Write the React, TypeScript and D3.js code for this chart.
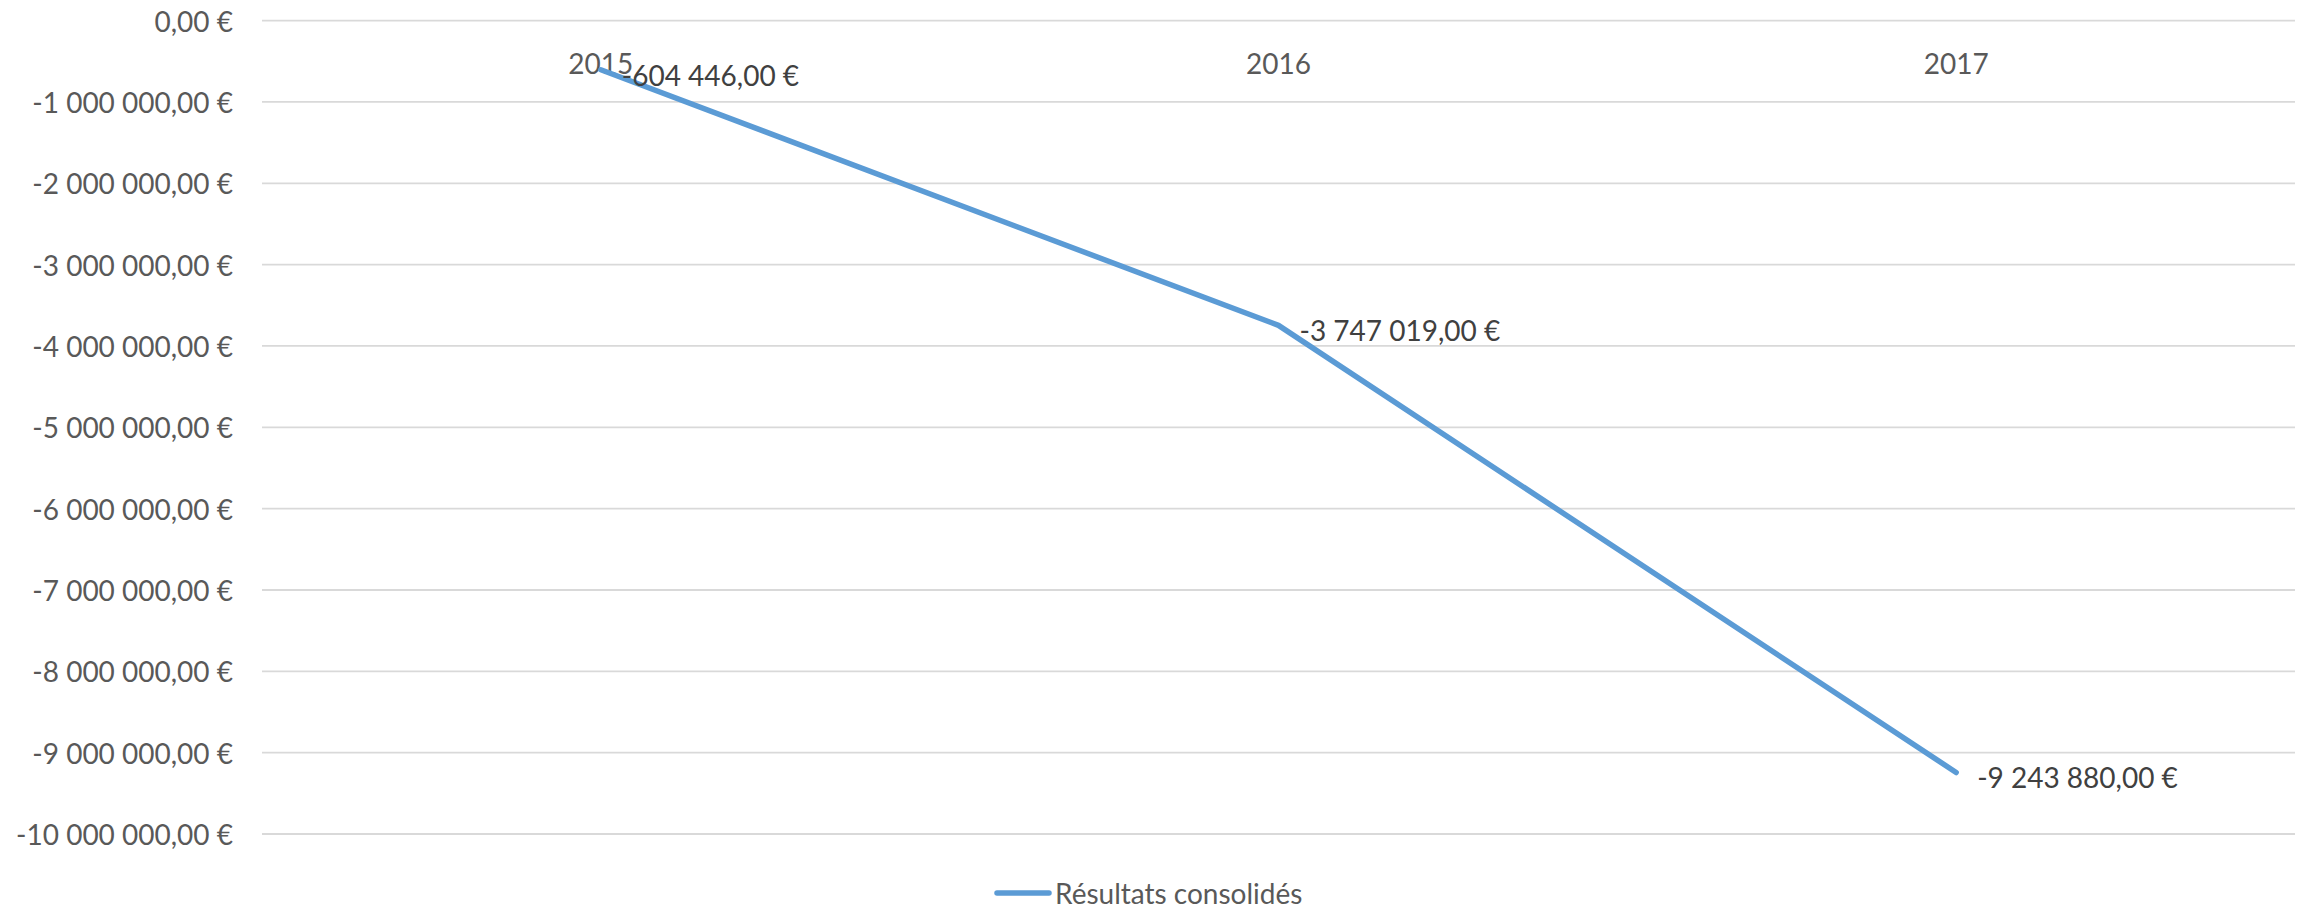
import React from 'react';
import * as d3 from 'd3';

// données
const years = ['2015', '2016', '2017'];
const resultats = [-604446, -3747019, -9243880];
const yTicks = [0, -1000000, -2000000, -3000000, -4000000, -5000000, -6000000, -7000000, -8000000, -9000000, -10000000];
const seriesName = 'Résultats consolidés';

const W = 2311;
const H = 906;
const FONT = 'Lato, "Open Sans", sans-serif';

const fr = d3.formatLocale({
  decimal: ',',
  thousands: ' ',
  grouping: [3],
  currency: ['', ' €'],
  minus: '-',
});
const euro = fr.format('$,.2f');

export default () => {
  const x = d3.scaleBand<string>().domain(years).range([262, 2295]);
  const y = d3.scaleLinear().domain([-10000000, 0]).range([834, 20.6]);

  const pts = years.map((yr, i) => [x(yr)! + x.bandwidth() / 2, y(resultats[i])] as [number, number]);
  const line = d3.line();

  return (
    <svg width={W} height={H} style={{ position: 'absolute', left: 0, top: 0, background: '#fff' }}>
      {/* grille + axe des valeurs */}
      {yTicks.map((t) => (
        <g key={t}>
          <line x1={262} x2={2295} y1={y(t)} y2={y(t)} stroke="#d9d9d9" strokeWidth={1.8} />
          <text
            x={233}
            y={y(t)}
            textAnchor="end"
            dominantBaseline="central"
            fontFamily={FONT}
            fontSize={28}
            fill="#595959"
          >
            {euro(t)}
          </text>
        </g>
      ))}

      {/* étiquettes des catégories */}
      {years.map((yr) => (
        <text
          key={yr}
          x={x(yr)! + x.bandwidth() / 2}
          y={y(0) + 42}
          textAnchor="middle"
          dominantBaseline="central"
          fontFamily={FONT}
          fontSize={28}
          fill="#595959"
        >
          {yr}
        </text>
      ))}

      {/* série */}
      <path
        d={line(pts) || ''}
        fill="none"
        stroke="#5b9bd5"
        strokeWidth={5.5}
        strokeLinecap="round"
        strokeLinejoin="round"
      />

      {/* étiquettes de données */}
      {pts.map(([px, py], i) => (
        <text
          key={i}
          x={px + 21}
          y={py + 5}
          dominantBaseline="central"
          fontFamily={FONT}
          fontSize={28}
          fill="#404040"
        >
          {euro(resultats[i])}
        </text>
      ))}

      {/* légende */}
      <line x1={997} x2={1049} y1={893} y2={893} stroke="#5b9bd5" strokeWidth={5.5} strokeLinecap="round" />
      <text x={1055} y={893} dominantBaseline="central" fontFamily={FONT} fontSize={28} fill="#595959">
        {seriesName}
      </text>
    </svg>
  );
};
